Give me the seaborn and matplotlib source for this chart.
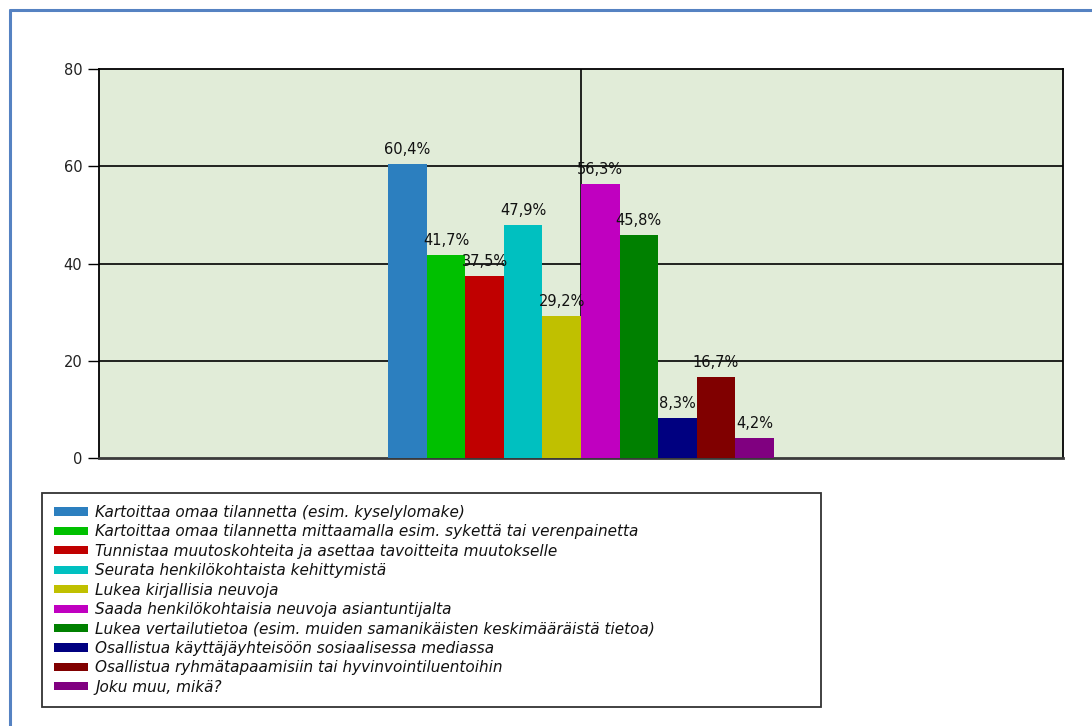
import matplotlib
matplotlib.use("Agg")
import matplotlib.pyplot as plt
import seaborn as sns
import pandas as pd
from matplotlib.lines import Line2D

# Survey answers and the share of respondents (%) choosing each
categories = [
    "Kartoittaa omaa tilannetta (esim. kyselylomake)",
    "Kartoittaa omaa tilannetta mittaamalla esim. sykettä tai verenpainetta",
    "Tunnistaa muutoskohteita ja asettaa tavoitteita muutokselle",
    "Seurata henkilökohtaista kehittymistä",
    "Lukea kirjallisia neuvoja",
    "Saada henkilökohtaisia neuvoja asiantuntijalta",
    "Lukea vertailutietoa (esim. muiden samanikäisten keskimääräistä tietoa)",
    "Osallistua käyttäjäyhteisöön sosiaalisessa mediassa",
    "Osallistua ryhmätapaamisiin tai hyvinvointiluentoihin",
    "Joku muu, mikä?",
]
values = [60.4, 41.7, 37.5, 47.9, 29.2, 56.3, 45.8, 8.3, 16.7, 4.2]
colors = ["#2C7FBF", "#00C000", "#C00000", "#00C0C0", "#C0C000",
          "#C000C0", "#008000", "#000080", "#800000", "#800080"]
y_ticks = [0, 20, 40, 60, 80]

df = pd.DataFrame({"group": [""] * len(categories),
                   "category": categories,
                   "value": values})

sns.set_theme(style="white")
plt.rcParams["font.family"] = ["DejaVu Sans"]

fig = plt.figure(figsize=(10.92, 7.26), dpi=100)
ax = fig.add_axes([99 / 1092, 1 - 458 / 726, (1063 - 99) / 1092, (458 - 69) / 726])
ax.set_facecolor("#E1ECD8")

sns.barplot(data=df, x="group", y="value", hue="category",
            hue_order=categories, palette=colors, width=0.8,
            dodge=True, saturation=1, linewidth=0, ax=ax, legend=False,
            zorder=3)

ax.set_xlim(-1, 1)
ax.set_ylim(0, 80)
ax.set_yticks(y_ticks)
ax.set_yticklabels([str(t) for t in y_ticks], fontsize=10.5, color="#222222")
ax.set_xticks([])
ax.set_xlabel("")
ax.set_ylabel("")
ax.tick_params(axis="y", direction="out", length=8, width=1, color="black",
               left=True, pad=4)

# Grid lines behind the bars
for t in y_ticks[1:-1]:
    ax.axhline(t, color="black", lw=1.2, zorder=1)
ax.axvline(0, color="black", lw=1.2, zorder=1)

for side in ["top", "right", "left"]:
    ax.spines[side].set_color("black")
    ax.spines[side].set_linewidth(1.3)
ax.spines["bottom"].set_color("#3a3a3a")
ax.spines["bottom"].set_linewidth(2)

# Value labels with a decimal comma
for cont, v in zip(ax.containers, values):
    ax.bar_label(cont, labels=[f"{v:.1f}".replace(".", ",") + "%"],
                 padding=5, fontsize=10.5, color="#111111", zorder=5)

# Legend below the plot
handles = [plt.Rectangle((0, 0), 1, 1, facecolor=c, edgecolor="none")
           for c in colors]
leg = fig.legend(handles, categories, loc="upper left",
                 bbox_to_anchor=(42 / 1092, 1 - 711 / 726,
                                 (821 - 42) / 1092, (711 - 493) / 726),
                 mode="expand", borderaxespad=0, frameon=True, fancybox=False,
                 prop={"size": 11, "style": "italic"},
                 handlelength=2.2, handleheight=0.45, handletextpad=0.5,
                 labelspacing=0.29, borderpad=0.78, ncol=1)
leg.get_frame().set_edgecolor("black")
leg.get_frame().set_linewidth(1.3)
for txt in leg.get_texts():
    txt.set_color("#111111")

# Outer blue frame
fig.add_artist(Line2D([10 / 1092, 10 / 1092], [0, 1 - 10 / 726],
                      transform=fig.transFigure, color="#5582C2", lw=2.2))
fig.add_artist(Line2D([10 / 1092, 1], [1 - 10 / 726, 1 - 10 / 726],
                      transform=fig.transFigure, color="#5582C2", lw=2.2))

fig.savefig("out.png", dpi=100)
